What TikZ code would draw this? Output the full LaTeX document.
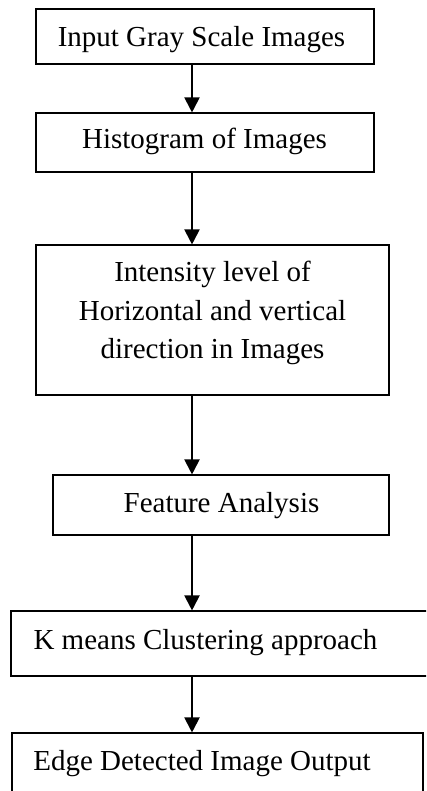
\documentclass[tikz,border=0pt]{standalone}
\usepackage{fontspec}
\setmainfont{Liberation Serif}
\usetikzlibrary{arrows.meta}
\begin{document}
\begin{tikzpicture}[x=1pt,y=-1pt,
  box/.style={draw=black, line width=1.1pt, rectangle, inner sep=0pt, fill=white},
  txt/.style={inner sep=0pt, font=\fontsize{29}{38.3}\selectfont, align=center},
  arr/.style={line width=2pt, -{Triangle[width=15pt,length=15pt]}}]
\useasboundingbox (0,0) rectangle (426,791);
\clip (0,0) rectangle (426,791);
\fill[white] (0,0) rectangle (426,791);
\coordinate (spine) at (192,0);
% boxes
\node[box, minimum width=338pt, minimum height=55pt] (b1) at (205,36.5) {};
\node[box, minimum width=338pt, minimum height=59pt] (b2) at (205,142.5) {};
\node[box, minimum width=353pt, minimum height=150pt] (b3) at (212.5,320) {};
\node[box, minimum width=336pt, minimum height=60pt] (b4) at (221,505) {};
\node[box, minimum width=421pt, minimum height=65pt] (b5) at (221.5,643.5) {};
\node[box, minimum width=411pt, minimum height=62pt] (b6) at (217.5,764) {};
% texts
\node[txt, anchor=base] (t1) at (201.5,46.7) {Input Gray Scale Images};
\node[txt, anchor=base] (t2) at (204.5,149) {Histogram of Images};
\node[txt, anchor=center] (t3) at (212.5,313) {Intensity level of\\Horizontal and vertical\\direction in Images};
\node[txt, anchor=base] (t4) at (221.5,512.7) {Feature Analysis};
\node[txt, anchor=base] (t5) at (205.5,649) {K means Clustering approach};
\node[txt, anchor=base] (t6) at (202,770) {Edge Detected Image Output};
% arrows
\draw[arr] (b1.south -| spine) -- (b2.north -| spine);
\draw[arr] (b2.south -| spine) -- (b3.north -| spine);
\draw[arr] (b3.south -| spine) -- (b4.north -| spine);
\draw[arr] (b4.south -| spine) -- (b5.north -| spine);
\draw[arr] (b5.south -| spine) -- (b6.north -| spine);
\end{tikzpicture}
\end{document}
